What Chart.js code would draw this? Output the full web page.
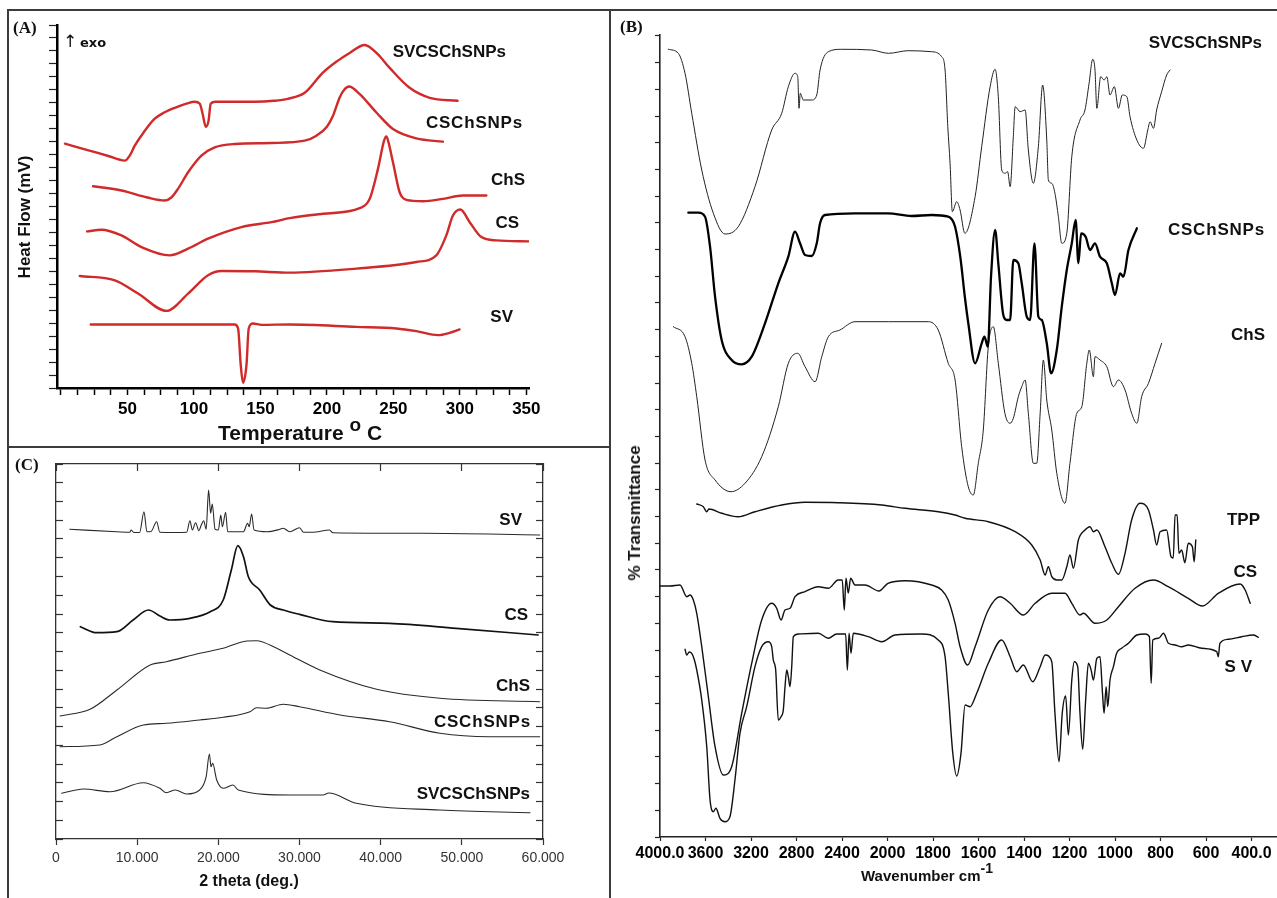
<!DOCTYPE html>
<html>
<head>
<meta charset="utf-8">
<script src="https://cdn.jsdelivr.net/npm/chart.js@4.4.1/dist/chart.umd.min.js"></script>
<style>
html,body{margin:0;padding:0;background:#fff;}
#fig{position:relative;width:1277px;height:898px;overflow:hidden;background:#fff;}
#fig canvas{position:absolute;}
.t{position:absolute;white-space:nowrap;font-family:"Liberation Sans",Arial,sans-serif;font-weight:bold;color:#111;line-height:1;}
.ln{position:absolute;background:#3c3c3c;}
</style>
</head>
<body>
<div id="fig">
  <canvas id="cA" width="610" height="447" style="left:0;top:0"></canvas>
  <canvas id="cC" width="610" height="451" style="left:0;top:447px"></canvas>
  <canvas id="cB" width="667" height="898" style="left:610px;top:0"></canvas>
  <div class="ln" style="left:7px;top:9px;width:1270px;height:2px"></div>
  <div class="ln" style="left:7px;top:9px;width:2px;height:889px"></div>
  <div class="ln" style="left:609px;top:9px;width:2px;height:889px"></div>
  <div class="ln" style="left:7px;top:446px;width:604px;height:2px"></div>
</div>
<script>
// ---------------- (A) DSC : [temperature °C, heat flow (arb. units)] ----------------
const dscSVCSChSNPs = [[3,245],[20,238.6],[35,232.9],[48,228],[51.7,233],[55.5,243],[62,256],[70.5,270],[78,276.5],[85.6,281],[95,285.5],[100.6,287],[104.4,285],[106.5,275],[108.9,262],[111,268],[112.6,285],[116,287],[130,287],[145.7,287],[160,288],[170.5,290],[183.3,296],[196.8,316],[208,328],[217.1,336],[228.4,344],[238,335],[247.2,321],[262.2,301],[277.3,291],[298.3,288]];
const dscCSChSNPs = [[24.1,202.3],[45.5,198],[65,191],[78,188],[83,191],[88,199.7],[95.6,216.3],[105.6,233],[115.6,241.3],[130.7,244.7],[158.3,245.7],[183.3,248],[192.1,253],[200,262],[204.6,273],[209.6,291.3],[213,299],[216.6,302.3],[224.7,294.7],[237.2,276.3],[249.7,259.7],[267.3,250.3],[287.3,247]];
const dscChS = [[19.6,157],[30.4,158.7],[45.5,153],[60.5,141.3],[81.8,133],[95.6,139.7],[110.6,149.7],[135.7,161.3],[158.3,166.3],[172,170.3],[197.1,174.7],[224.7,180.3],[232.2,189.7],[238.4,219.7],[243,248],[244.7,252.3],[246.2,247],[249.7,226.3],[254.7,196.3],[259.8,188.7],[272.3,187.3],[287.3,189.7],[302.3,193],[319.9,193]];
const dscCS = [[14.1,112.3],[40.5,108],[58,94.7],[79.3,77.3],[95.6,94.7],[110.6,113],[120.7,117.3],[145.7,117],[172,115.7],[222.2,119.7],[267.3,126.3],[282.3,133],[289.8,153],[294.8,173],[300.4,179],[307.4,166.3],[316.2,151.3],[327.4,148],[352,147]];
const dscSV = [[22.4,63.7],[80,63.7],[130.7,63.7],[133.2,59.7],[135.2,23],[136.9,5.3],[139.5,23],[141.2,59.7],[144.4,64.7],[150.8,63.3],[172,63.7],[222.2,61.3],[252.3,59.7],[267.3,57],[283.5,53],[292.3,55.3],[299.8,58.7]];
const dscTickLabels = [50,100,150,200,250,300,350];

// ---------------- (C) XRD : [2 theta (deg.), intensity (arb. units)] ----------------
const xrdSV = [[1.7,309.7],[7.5,307.3],[9.1,306.7],[9.24,309],[9.6,306.5],[10.3,306.5],[10.84,327.3],[11.2,307.3],[11.7,307.5],[12.4,317.3],[12.8,306.7],[14.4,306.5],[16.1,306.7],[16.5,318.3],[16.8,309],[17.2,316.3],[17.6,308.3],[17.9,314],[18.2,318.3],[18.5,309.7],[18.8,349],[19.05,325.7],[19.25,335],[19.6,309.7],[20.0,309],[20.3,324],[20.5,312.3],[20.9,326.7],[21.15,307.3],[23.1,307.3],[23.6,315.7],[23.8,312.3],[24.1,325],[24.4,309],[26.0,307.3],[27.6,309.7],[28.0,310.7],[28.8,307.3],[30.0,311.3],[30.5,306.7],[32.0,307],[33.7,309],[34.1,306.3],[45.2,305.7],[59.6,304]];
const xrdCS = [[3.0,212.3],[5.0,206.3],[7.5,207.3],[9.5,219],[11.4,229],[12.8,223],[14.0,219],[16.5,220.7],[19.0,227.3],[20.6,239],[21.6,269],[22.4,293.3],[23.1,282.3],[23.7,262.3],[25.1,249],[26.4,234],[28.0,229],[30.0,224.7],[34.1,217.3],[41.1,215.7],[49.3,210.7],[59.4,204]];
const xrdChS = [[0.5,123],[4.2,129.7],[7.5,149],[11.6,174],[13.6,177.3],[17.7,185.7],[20.6,190.7],[23.5,198],[24.7,198.3],[27.2,190.7],[28.8,184],[32.5,169],[39.5,149.7],[47.3,140.7],[59.6,137.3]];
const xrdCSChSNPs = [[0.5,92.3],[5.4,94],[7.5,102.3],[10.75,114],[13.6,115.7],[17.7,119],[20.6,121.7],[23.9,127.3],[24.7,131.3],[25.9,130.7],[28.0,134.7],[30.0,132.3],[35.0,124],[41.1,117.3],[47.3,105.7],[53.4,102.3],[59.6,102.3]];
const xrdSVCSChSNPs = [[0.7,45.7],[3.4,50],[6.65,47.3],[10.75,56.3],[12.8,50.7],[13.6,46.3],[14.7,49],[16.1,45],[17.7,49],[18.5,62.3],[18.9,85],[19.1,72.3],[19.3,75.7],[19.8,59],[20.6,50.7],[21.8,54],[22.45,49],[28.8,44],[32.9,44],[33.6,46],[37.0,35.7],[47.3,29],[58.4,26.3]];

// ---------------- (B) FTIR : [wavenumber cm-1, % transmittance (arb. offset units)] ----------------
const irSVCSChSNPs = [[3927,787.7],[3839,783.7],[3780,763.7],[3721,723.7],[3633,667],[3531,623.7],[3429,603],[3312,610.3],[3165,650.3],[3018,707],[2930,723.7],[2872,750.3],[2813,763.7],[2789,760.3],[2778,728.7],[2767,743.7],[2740,737],[2666,737],[2622,742],[2593,767],[2520,785.3],[2403,787.7],[2139,787],[1996,783.7],[1909,786.3],[1806,785.3],[1762,780.3],[1747,767],[1735,710.3],[1725,673.7],[1715,625.3],[1696,635.3],[1681,627],[1660,603.7],[1615,640.3],[1586,690.3],[1549,750.3],[1527,767.7],[1513,740.3],[1498,667],[1484,663.7],[1472,665.3],[1461,650.3],[1447,700.3],[1439,730.3],[1417,725.3],[1395,727],[1381,687],[1359,653.7],[1337,690.3],[1318,752],[1300,697],[1293,657],[1278,653.7],[1264,643.7],[1249,620.3],[1234,593.7],[1212,603.7],[1190,680.3],[1154,717],[1132,727],[1114,753.7],[1098,777.7],[1088,767],[1080,728.7],[1063,760.3],[1048,757],[1036,760.3],[1022,742],[1003,750.3],[985,728.7],[968,742],[948,740.3],[934,720.3],[904,697],[875,688.7],[856,707],[846,715.3],[831,708.7],[817,727],[795,745.3],[773,762],[758,767]];
const irCSChSNPs = [[3751,624.3],[3663,624.3],[3604,620.3],[3560,590.3],[3516,540.3],[3458,497],[3370,477],[3282,472.7],[3194,480.3],[3077,513.7],[2960,553.7],[2872,580.3],[2813,605.3],[2769,593.7],[2725,582],[2666,581],[2622,593.7],[2593,613.7],[2549,622],[2286,623.7],[1998,623.7],[1894,621],[1806,622],[1733,620.3],[1703,610.3],[1680,580],[1660,540],[1645,514],[1615,473.7],[1586,493.7],[1574,500.3],[1559,490.3],[1545,560.3],[1527,607],[1513,573.7],[1491,522],[1476,517],[1461,517],[1447,577],[1425,573.7],[1410,553.7],[1388,520.3],[1373,517],[1354,593.7],[1337,520.3],[1322,517],[1300,493.7],[1281,463.7],[1256,487],[1234,530.3],[1212,567],[1190,593.7],[1173,617],[1161,573.7],[1149,603.7],[1129,600.3],[1110,587],[1088,593.7],[1066,580.3],[1036,573.7],[1014,553.7],[1000,542],[978,563.7],[963,560.3],[941,587],[904,608.7]];
const irChS = [[3883,510.3],[3780,500.3],[3721,473.7],[3677,440.3],[3604,377],[3516,357],[3376,345.3],[3253,353.7],[3106,380.3],[2960,430.3],[2872,473.7],[2789,483.7],[2725,470.3],[2637,455.3],[2578,480.3],[2520,500.3],[2418,507],[2286,515.3],[1996,515.3],[1821,515.3],[1777,507],[1733,473.7],[1703,457],[1674,390.3],[1645,350.3],[1623,342],[1601,373.7],[1579,407],[1557,490.3],[1535,510.3],[1513,473.7],[1484,423.7],[1461,413.7],[1447,418.7],[1425,440.3],[1410,450.3],[1395,457],[1381,423.7],[1359,373.7],[1344,373.7],[1329,423.7],[1315,477],[1300,437],[1278,407],[1256,363.7],[1220,333.7],[1198,373.7],[1168,423.7],[1146,430.3],[1124,473.7],[1113,487],[1095,460.3],[1088,480.3],[1066,477],[1036,470.3],[1007,450.3],[985,457],[956,447],[927,423.7],[904,413.7],[883,440.3],[853,453.7],[824,473.7],[795,493.7]];
const irTPP = [[3677,333],[3619,330.3],[3589,325.3],[3570,328],[3458,323.7],[3312,320.3],[3165,325.3],[2930,332],[2725,334.7],[2433,334.3],[2052,332],[1923,328.7],[1777,325.3],[1703,322],[1659,318.7],[1557,315.3],[1439,305.3],[1366,292],[1329,277],[1307,262],[1293,270.3],[1278,260.3],[1256,257],[1234,257],[1212,270.3],[1198,282],[1183,268.7],[1161,297],[1132,307],[1110,310.3],[1095,305.3],[1080,307],[1044,290.3],[1014,273.7],[985,262.7],[956,283.7],[927,317],[890,333.7],[853,327],[831,307],[817,292],[802,305.3],[773,307],[754,280.3],[744,279],[736,322],[727,322],[719,283.7],[707,287],[693,274.3],[678,293.7],[660,290.3],[652,275.3],[645,297]];
const irCS = [[4000,251],[3912,251],[3824,252],[3765,240.3],[3736,242],[3707,237],[3677,223.7],[3633,190.3],[3575,140.3],[3516,90.3],[3444,62],[3370,70.3],[3282,123.7],[3194,173.7],[3106,217],[3018,233.7],[2974,228.7],[2936,217],[2901,227],[2857,228.7],[2813,240.3],[2725,245.3],[2608,250.3],[2520,248.7],[2433,257],[2398,257],[2380,227],[2365,258.7],[2345,244],[2324,258.7],[2286,252],[2198,252],[2075,246],[1998,253.7],[1923,256.3],[1806,252],[1762,247],[1733,237],[1703,213.7],[1681,190.3],[1648,172],[1615,190.3],[1557,227],[1505,240.3],[1461,233.7],[1403,222],[1351,233.7],[1278,243.7],[1220,243.7],[1190,233.7],[1154,222],[1139,223.7],[1088,213.7],[1036,217],[985,230.3],[912,248.7],[831,257],[766,250.3],[678,238.7],[616,231],[546,243.7],[450,253],[428,247],[406,233.7]];
const irSV = [[3780,187.7],[3765,182],[3743,185],[3721,183.7],[3700,178],[3677,167],[3633,137],[3589,90.3],[3560,37],[3531,25.3],[3508,28.7],[3473,18.7],[3429,15.3],[3385,20.3],[3341,57],[3297,103.7],[3238,130.3],[3165,170.3],[3106,190.3],[3048,195.3],[3018,190.3],[3004,177],[2983,167],[2960,117],[2936,120.3],[2916,127],[2901,150.3],[2886,167],[2872,160.3],[2857,150.3],[2842,170.3],[2828,200.3],[2784,203],[2608,203.7],[2520,198.7],[2447,203],[2368,203],[2353,167],[2338,203.7],[2321,183.7],[2301,203.7],[2169,200.3],[2051,195.3],[1967,202],[1850,203],[1777,197],[1747,180.3],[1733,143.7],[1713,83.7],[1696,61],[1677,83.7],[1659,132],[1637,130.3],[1608,143.7],[1557,173.7],[1498,197],[1461,180.3],[1432,165.3],[1403,172],[1362,155.3],[1329,170.3],[1307,182],[1278,175.3],[1264,123.7],[1246,75.3],[1232,123.7],[1217,141],[1205,102],[1190,157],[1179,175.3],[1164,170.3],[1154,123.7],[1142,87.7],[1129,137],[1117,173.7],[1105,167],[1095,157],[1080,178.7],[1066,180.3],[1055,143.7],[1048,123.7],[1039,150.3],[1032,130.3],[1022,157],[1007,170.3],[993,183.7],[971,188.7],[941,193.7],[904,202],[868,203],[849,200.3],[841,153.7],[834,197],[809,198.7],[787,203.7],[765,193.7],[736,192],[707,190.3],[678,192],[619,188.7],[553,185.3],[546,180.3],[539,193.7],[502,197.7],[443,200.3],[392,202],[370,199.7]];
const irTickValues = [4000,3600,3200,2800,2400,2000,1800,1600,1400,1200,1000,800,600,400];

// ---------------- helpers ----------------
const fig = document.getElementById('fig');
function series(pairs, color, width) {
  return {
    data: pairs.map(p => ({x: p[0], y: p[1]})),
    borderColor: color, borderWidth: width, pointRadius: 0, fill: false,
    cubicInterpolationMode: 'monotone', borderJoinStyle: 'round', borderCapStyle: 'round'
  };
}
function addText(html, x, y, align, font, extra) {
  const d = document.createElement('div');
  d.className = 't';
  d.innerHTML = html;
  d.style.left = x + 'px';
  d.style.top = y + 'px';
  d.style.font = font;
  const tx = align === 'l' ? '0' : (align === 'r' ? '-100%' : '-50%');
  d.style.transform = 'translate(' + tx + ',-50%)' + (extra || '');
  fig.appendChild(d);
  return d;
}
const base = {
  type: 'line',
  options: {
    responsive: false, animation: false, devicePixelRatio: 1, events: [],
    plugins: { legend: { display: false }, tooltip: { enabled: false } }
  }
};

// wavenumber scale with 2x expansion below 2000 cm-1
const uOf = w => w >= 2000 ? (4000 - w) / 400 : 5 + (2000 - w) / 200;
const wOf = u => u <= 5 ? 4000 - 400 * u : 2000 - 200 * (u - 5);
class SplitWavenumberScale extends Chart.LinearScale {
  static id = 'splitWavenumber';
  static defaults = {};
  buildTicks() {
    this.start = this.min; this.end = this.max;
    return irTickValues.filter(v => v >= this.min && v <= this.max).map(v => ({value: v}));
  }
  getPixelForValue(v) {
    if (v === null || v === undefined || isNaN(v)) return NaN;
    const u0 = uOf(this.max), u1 = uOf(this.min);
    return this.getPixelForDecimal((uOf(v) - u0) / (u1 - u0));
  }
  getValueForPixel(p) {
    const u0 = uOf(this.max), u1 = uOf(this.min);
    return wOf(u0 + this.getDecimalForPixel(p) * (u1 - u0));
  }
}
Chart.register(SplitWavenumberScale);

// ---------------- Chart A ----------------
const red = 'rgb(208,42,42)';
new Chart(document.getElementById('cA'), {
  type: 'line',
  data: { datasets: [
    series(dscSVCSChSNPs, red, 2.4), series(dscCSChSNPs, red, 2.4), series(dscChS, red, 2.4),
    series(dscCS, red, 2.4), series(dscSV, red, 2.4)
  ]},
  options: Object.assign({}, base.options, {
    layout: { padding: { left: 0, top: 25, right: 81, bottom: 0 } },
    scales: {
      x: {
        type: 'linear', min: -3, max: 352,
        border: { display: true, color: '#000', width: 2.5 },
        grid: { drawOnChartArea: false, drawTicks: true, tickLength: 7, tickColor: '#000', tickWidth: 1.5 },
        ticks: {
          stepSize: 12.5, includeBounds: false, autoSkip: false, maxRotation: 0, minRotation: 0,
          padding: 4, color: '#000', font: { family: '"Liberation Sans", Arial', size: 17, weight: 'bold' },
          callback: v => dscTickLabels.includes(v) ? String(v) : ''
        },
        afterFit: s => { s.height = 59; }
      },
      y: {
        type: 'linear', min: 0, max: 364,
        border: { display: true, color: '#000', width: 2.5 },
        grid: { drawOnChartArea: false, drawTicks: true, tickLength: 8, tickColor: '#222', tickWidth: 1.2 },
        ticks: { display: false, stepSize: 13, includeBounds: false },
        afterFit: s => { s.width = 57; }
      }
    }
  })
});

// ---------------- Chart C ----------------
const innerTick = { drawOnChartArea: false, drawTicks: true, tickLength: -7, tickColor: '#333', tickWidth: 1.2 };
new Chart(document.getElementById('cC'), {
  type: 'line',
  data: { datasets: [
    series(xrdSV, '#2a2a2a', 1.1), series(xrdCS, '#111', 1.7), series(xrdChS, '#2a2a2a', 1.1),
    series(xrdCSChSNPs, '#2a2a2a', 1.1), series(xrdSVCSChSNPs, '#2a2a2a', 1.1)
  ]},
  options: Object.assign({}, base.options, {
    layout: { padding: { left: 0, top: 17, right: 67, bottom: 0 } },
    scales: {
      x: {
        type: 'linear', min: 0, max: 60, position: 'bottom',
        border: { display: true, color: '#333', width: 1.3 },
        grid: { drawOnChartArea: false, drawTicks: true, tickLength: 6, tickColor: '#333', tickWidth: 1.2 },
        ticks: {
          stepSize: 10, autoSkip: false, maxRotation: 0, minRotation: 0, padding: 5, color: '#333',
          font: { family: '"Liberation Sans", Arial', size: 14 },
          callback: v => v === 0 ? '0' : v.toFixed(3)
        },
        afterFit: s => { s.height = 59; }
      },
      x2: {
        type: 'linear', axis: 'x', min: 0, max: 60, position: 'top',
        border: { display: true, color: '#333', width: 1.3 },
        grid: innerTick, ticks: { display: false, stepSize: 10 },
        afterFit: s => { s.height = 0; }
      },
      y: {
        type: 'linear', min: 0, max: 375, position: 'left',
        border: { display: true, color: '#333', width: 1.3 },
        grid: innerTick, ticks: { display: false, stepSize: 18.75 },
        afterFit: s => { s.width = 56; }
      },
      y2: {
        type: 'linear', axis: 'y', min: 0, max: 375, position: 'right',
        border: { display: true, color: '#333', width: 1.3 },
        grid: innerTick, ticks: { display: false, stepSize: 18.75 },
        afterFit: s => { s.width = 0; }
      }
    }
  })
});

// ---------------- Chart B ----------------
new Chart(document.getElementById('cB'), {
  type: 'line',
  data: { datasets: [
    series(irSVCSChSNPs, '#222', 1.0), series(irCSChSNPs, '#000', 2.3), series(irChS, '#222', 1.0),
    series(irTPP, '#111', 1.4), series(irCS, '#111', 1.4), series(irSV, '#111', 1.4)
  ]},
  options: Object.assign({}, base.options, {
    layout: { padding: { left: 0, top: 35, right: 0, bottom: 0 } },
    scales: {
      x: {
        type: 'splitWavenumber', min: 288, max: 4000,
        border: { display: true, color: '#222', width: 1.6 },
        grid: { drawOnChartArea: false, drawTicks: true, tickLength: 4, tickColor: '#222', tickWidth: 1.2 },
        ticks: {
          autoSkip: false, maxRotation: 0, minRotation: 0, padding: 3, color: '#000',
          font: { family: '"Liberation Sans", Arial', size: 16, weight: 'bold' },
          callback: v => (v === 4000 || v === 400) ? v.toFixed(1) : String(v)
        },
        afterFit: s => { s.height = 61; }
      },
      y: {
        type: 'linear', min: 0, max: 802,
        border: { display: true, color: '#222', width: 1.6 },
        grid: { drawOnChartArea: false, drawTicks: true, tickLength: 5, tickColor: '#222', tickWidth: 1.2 },
        ticks: { display: false, stepSize: 26.7 },
        afterFit: s => { s.width = 50; }
      }
    }
  })
});

// ---------------- Text ----------------
const serif = 'bold 17px "Liberation Serif", "Times New Roman", serif';
const lbl = 'bold 17px "Liberation Sans", Arial, sans-serif';
// panel A
addText('(A)', 13, 28, 'l', serif);
addText('&#8593;', 70, 41, 'c', 'normal 17px "DejaVu Sans", sans-serif');
addText('exo', 80, 42, 'l', 'bold 13px "DejaVu Sans", sans-serif');
addText('SVCSChSNPs', 506, 52, 'r', lbl);
addText('CSChSNPs', 523, 123, 'r', lbl).style.letterSpacing = '0.8px';
addText('ChS', 525, 180, 'r', lbl);
addText('CS', 519, 223, 'r', lbl);
addText('SV', 513, 317, 'r', lbl);
addText('Heat Flow (mV)', 24.5, 217, 'c', 'bold 17px "Liberation Sans", Arial, sans-serif', ' rotate(-90deg)');
addText('Temperature <span style="position:relative;top:-9px;font-size:19px">o</span> C', 218, 433, 'l', 'bold 21px "Liberation Sans", Arial, sans-serif');
// panel C
addText('(C)', 15, 465, 'l', serif);
addText('SV', 522, 520, 'r', lbl);
addText('CS', 528, 615, 'r', lbl);
addText('ChS', 530, 686, 'r', lbl);
addText('CSChSNPs', 531, 722, 'r', lbl).style.letterSpacing = '0.8px';
addText('SVCSChSNPs', 530, 794, 'r', lbl);
addText('2 theta (deg.)', 249, 881, 'c', 'bold 16px "Liberation Sans", Arial, sans-serif');
// panel B
addText('(B)', 620, 27, 'l', serif);
addText('SVCSChSNPs', 1262, 43, 'r', lbl);
addText('CSChSNPs', 1265, 230, 'r', lbl).style.letterSpacing = '0.8px';
addText('ChS', 1265, 335, 'r', lbl);
addText('TPP', 1260, 520, 'r', lbl);
addText('CS', 1257, 572, 'r', lbl);
addText('S V', 1252, 667, 'r', lbl);
addText('% Transmittance', 634.5, 513, 'c', 'bold 17px "Liberation Sans", Arial, sans-serif', ' rotate(-90deg)');
addText('Wavenumber cm<span style="position:relative;top:-8px;font-size:14px">-1</span>', 861, 875, 'l', 'bold 15px "Liberation Sans", Arial, sans-serif');
</script>
</body>
</html>
